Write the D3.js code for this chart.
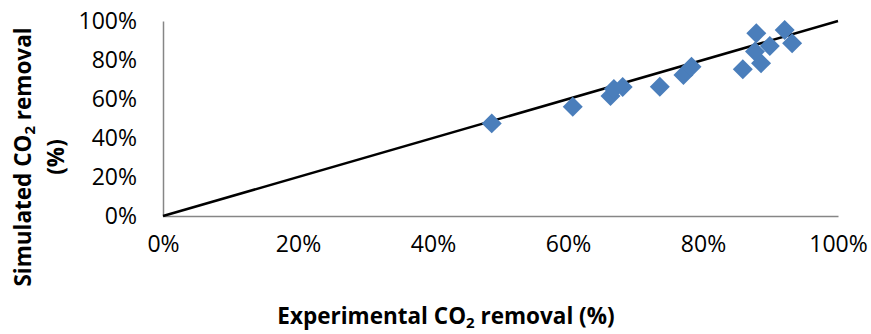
<!DOCTYPE html>
<html lang="en">
<head>
<meta charset="utf-8">
<style>
  body { margin: 0; background: #fff; }
  svg text { font-family: "Open Sans", "Liberation Sans", sans-serif; fill: #000; }
</style>
</head>
<body>
<div id="chart"></div>
<script src="https://d3js.org/d3.v7.min.js"></script>
<script>
// experimental vs simulated CO2 removal, in %
var experimental = [48.7, 60.7, 66.3, 66.8, 68.1, 73.6, 77.1, 78.3, 85.9, 87.9, 87.7, 88.6, 89.9, 92.1, 93.2];
var simulated    = [47.5, 56.0, 61.5, 65.1, 66.2, 66.3, 72.3, 76.6, 75.2, 93.7, 84.3, 78.3, 87.2, 95.4, 88.6];
var xTicks = [0, 20, 40, 60, 80, 100];
var yTicks = [0, 20, 40, 60, 80, 100];
var parity = [0, 100];

var width = 871, height = 334;
var margin = { top: 21, right: 33, bottom: 118, left: 163 };
var w = width - margin.left - margin.right,
    h = height - margin.top - margin.bottom;

var data = experimental.map(function (d, i) { return { x: d, y: simulated[i] }; });

var svg = d3.select("#chart").append("svg")
    .attr("width", width)
    .attr("height", height);

var g = svg.append("g")
    .attr("transform", "translate(" + margin.left + "," + margin.top + ")");

var x = d3.scaleLinear().domain([0, 100]).range([0, w]);
var y = d3.scaleLinear().domain([0, 100]).range([h, 0]);

var xAxis = g.append("g")
    .attr("transform", "translate(0," + h + ")")
    .call(d3.axisBottom(x).tickValues(xTicks).tickSize(0).tickPadding(20)
        .tickFormat(function (d) { return d + "%"; }));

var yAxis = g.append("g")
    .call(d3.axisLeft(y).tickValues(yTicks).tickSize(0).tickPadding(26)
        .tickFormat(function (d) { return d + "%"; }));

[xAxis, yAxis].forEach(function (a) {
    a.select(".domain").attr("stroke", "#868686").attr("stroke-width", 1.5);
    a.selectAll("text").attr("font-size", 23)
        .attr("font-family", "'Open Sans', sans-serif").attr("fill", "#000");
});

// 1:1 line
g.append("line")
    .attr("x1", x(parity[0])).attr("y1", y(parity[0]))
    .attr("x2", x(parity[1])).attr("y2", y(parity[1]))
    .attr("stroke", "#000")
    .attr("stroke-width", 2.5);

var diamond = d3.symbol().type(d3.symbolSquare).size(200);

g.selectAll("path.pt")
    .data(data)
    .enter()
    .append("path")
    .attr("class", "pt")
    .attr("d", diamond)
    .attr("transform", function (d) {
        return "translate(" + x(d.x) + "," + y(d.y) + ") rotate(45)";
    })
    .attr("fill", "#4a7ebb");

// axis titles
var xt = svg.append("text")
    .attr("x", 446)
    .attr("y", 324)
    .attr("text-anchor", "middle")
    .attr("font-weight", "bold")
    .attr("font-size", 22.5);
xt.append("tspan").text("Experimental CO");
xt.append("tspan").text("2").attr("font-size", 15).attr("dy", 4);
xt.append("tspan").text(" removal (%)").attr("dy", -4);

var yt = svg.append("text")
    .attr("transform", "translate(31,157) rotate(-90)")
    .attr("text-anchor", "middle")
    .attr("font-weight", "bold")
    .attr("font-size", 22.5);
yt.append("tspan").text("Simulated CO");
yt.append("tspan").text("2").attr("font-size", 15).attr("dy", 4);
yt.append("tspan").text(" removal").attr("dy", -4);

svg.append("text")
    .attr("transform", "translate(64,157) rotate(-90)")
    .attr("text-anchor", "middle")
    .attr("font-weight", "bold")
    .attr("font-size", 22.5)
    .text("(%)");
</script>
</body>
</html>
